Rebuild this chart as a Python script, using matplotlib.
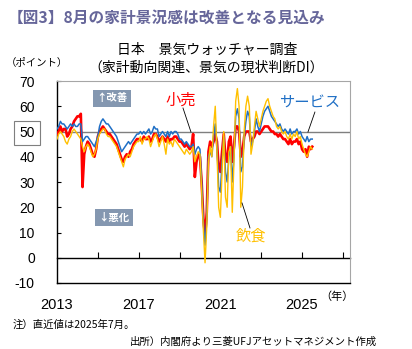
import matplotlib
matplotlib.use("Agg")
import matplotlib.pyplot as plt
import numpy as np

plt.rcParams['font.family'] = ['Noto Sans CJK JP', 'DejaVu Sans']

start_year = 2013
retail = [49, 50, 52, 50, 51, 51, 48, 49, 51, 52, 54, 55,
          56, 56, 57, 28, 41, 44, 46, 45, 43, 41, 40, 43,
          48, 50, 51, 52, 51, 50, 49, 49, 48, 47, 46, 45,
          43, 41, 39, 38, 40, 41, 40, 42, 43, 45, 46, 47,
          47, 47, 46, 48, 47, 47, 48, 46, 47, 49, 49, 48,
          46, 47, 48, 47, 46, 48, 46, 47, 47, 48, 48, 47,
          46, 46, 45, 44, 45, 44, 43, 44, 49, 32, 38, 41,
          40, 30, 16, 8, 18, 42, 46, 44, 46, 49, 46, 36,
          34, 42, 49, 40, 38, 46, 48, 38, 44, 52, 52, 50,
          40, 42, 48, 50, 50, 50, 46, 47, 48, 50, 50, 49,
          50, 51, 52, 52, 52, 51, 50, 50, 49, 49, 48, 49,
          48, 47, 47, 46, 45, 47, 45, 46, 46, 47, 45, 46,
          43, 42, 43, 40, 44, 43, 44]
service = [51, 52, 54, 53, 53, 52, 51, 52, 53, 52, 53, 52,
           52, 53, 53, 46, 47, 48, 48, 47, 46, 45, 44, 46,
           48, 52, 54, 55, 54, 53, 53, 52, 51, 50, 49, 48,
           46, 44, 42, 43, 44, 45, 46, 45, 46, 47, 48, 49,
           49, 50, 49, 50, 49, 50, 51, 49, 50, 52, 51, 51,
           48, 49, 50, 49, 48, 50, 48, 50, 49, 50, 50, 49,
           47, 47, 46, 45, 46, 45, 44, 44, 45, 41, 43, 44,
           43, 30, 14, 5, 15, 40, 42, 40, 48, 53, 44, 28,
           26, 38, 48, 34, 30, 40, 44, 30, 40, 56, 59, 55,
           34, 36, 48, 54, 58, 56, 44, 46, 50, 55, 52, 50,
           53, 56, 58, 59, 60, 58, 56, 55, 54, 53, 52, 53,
           51, 50, 51, 50, 49, 51, 49, 50, 50, 51, 49, 50,
           48, 47, 46, 48, 46, 47, 47]
food = [47, 49, 50, 49, 48, 46, 45, 47, 48, 50, 51, 50,
        49, 48, 47, 44, 42, 44, 45, 44, 42, 40, 41, 43,
        47, 49, 50, 51, 51, 49, 48, 48, 47, 46, 45, 44,
        42, 40, 38, 36, 39, 40, 41, 40, 42, 44, 45, 46,
        46, 48, 45, 47, 47, 48, 47, 44, 46, 48, 49, 47,
        44, 46, 48, 45, 41, 47, 45, 46, 44, 47, 46, 45,
        44, 43, 42, 41, 43, 42, 41, 42, 44, 38, 40, 42,
        41, 27, 11, -2, 12, 38, 44, 40, 52, 60, 42, 20,
        16, 34, 50, 24, 20, 42, 44, 18, 38, 62, 67, 60,
        20, 28, 50, 60, 64, 60, 41, 45, 52, 58, 55, 52,
        55, 58, 60, 62, 63, 60, 58, 56, 55, 52, 51, 52,
        50, 49, 50, 48, 47, 49, 47, 49, 48, 50, 47, 48,
        45, 43, 41, 40, 42, 44, 43]

year_ticks = [2013, 2017, 2021, 2025]
minor_years = [2015, 2017, 2019, 2021, 2023, 2025, 2027]
y_ticks = [-10, 0, 10, 20, 30, 40, 50, 60, 70]

t = start_year + np.arange(len(retail)) / 12.0

fig = plt.figure(figsize=(4.12, 3.49), dpi=100)
ax = fig.add_axes([57/412, 1-283/349, (350-57)/412, (283-81)/349])

ax.plot(t, retail, color='#FF0000', lw=1.9, zorder=3)
ax.plot(t, service, color='#1F6FC5', lw=1.1, zorder=4)
ax.plot(t, food, color='#FFC000', lw=1.0, zorder=5)

ax.set_xlim(2013, 2013 + (350-57)/20.42)
ax.set_ylim(-10, 70)
ax.axhline(50, color='#7F7F7F', lw=1.0, zorder=2)

for s in ['top', 'right']:
    ax.spines[s].set_color('#A6A6A6')
for s in ['left', 'bottom']:
    ax.spines[s].set_color('black')
    ax.spines[s].set_linewidth(1.0)

ax.set_yticks(y_ticks)
ax.set_yticklabels([str(v) for v in y_ticks], fontfamily='Liberation Sans', fontsize=10)
ax.tick_params(axis='y', direction='in', length=3, pad=16)
for lab in ax.get_yticklabels():
    if lab.get_text() == '50':
        lab.set_bbox(dict(facecolor='white', edgecolor='#7F7F7F', lw=0.8, boxstyle='square,pad=0.35'))

ax.set_xticks(year_ticks)
ax.set_xticklabels([str(y) for y in year_ticks], fontfamily='Liberation Sans', fontsize=10.5)
ax.tick_params(axis='x', length=0, pad=11)

sec = ax.secondary_xaxis(10/80)
sec.set_xticks(minor_years)
sec.set_xticklabels([''] * len(minor_years))
sec.tick_params(direction='in', length=4, color='black')
sec.spines['bottom'].set_color('black')
sec.spines['bottom'].set_linewidth(1.0)

box = dict(facecolor='#8497B0', edgecolor='none', boxstyle='square,pad=0.3')
ax.text(2015.7, 63.1, '↑改善', color='white', fontsize=7.5, fontweight='bold', ha='center', va='center', bbox=box)
ax.text(2015.8, 15.9, '↓悪化', color='white', fontsize=7.5, fontweight='bold', ha='center', va='center', bbox=box)

ax.text(2019.07, 62.5, '小売', color='#FF0000', fontsize=11, ha='center', va='center')
ax.plot([2019.17, 2019.56], [59.3, 49.8], color='black', lw=0.6, zorder=6)
ax.text(2025.39, 61.1, 'サービス', color='#1F6FC5', fontsize=11, ha='center', va='center')
ax.plot([2025.63, 2025.29], [57.7, 49.8], color='black', lw=0.6, zorder=6)
ax.text(2022.48, 8.4, '飲食', color='#FFC000', fontsize=11, ha='center', va='center')
ax.plot([2022.06, 2022.45], [21.7, 11.8], color='black', lw=0.6, zorder=6)

fig.text(8/412, 1-19/349, '【図3】8月の家計景況感は改善となる見込み', color='#66669A',
         fontsize=11.3, fontweight='bold', ha='left', va='center')
fig.text(207/412, 1-50/349, '日本　景気ウォッチャー調査', fontsize=10, ha='center', va='center')
fig.text(206/412, 1-68/349, '（家計動向関連、景気の現状判断DI）', fontsize=10, ha='center', va='center')
fig.text(6/412, 1-63/349, '（ポイント）', fontsize=7.5, ha='left', va='center')
fig.text(337/412, 1-297/349, '（年）', fontsize=8, ha='center', va='center')
fig.text(13/412, 1-325/349, '注）直近値は2025年7月。', fontsize=7.5, ha='left', va='center')
fig.text(130/412, 1-342/349, '出所）内閣府より三菱UFJアセットマネジメント作成', fontsize=7.5, ha='left', va='center')

fig.savefig('out.png', dpi=100)
